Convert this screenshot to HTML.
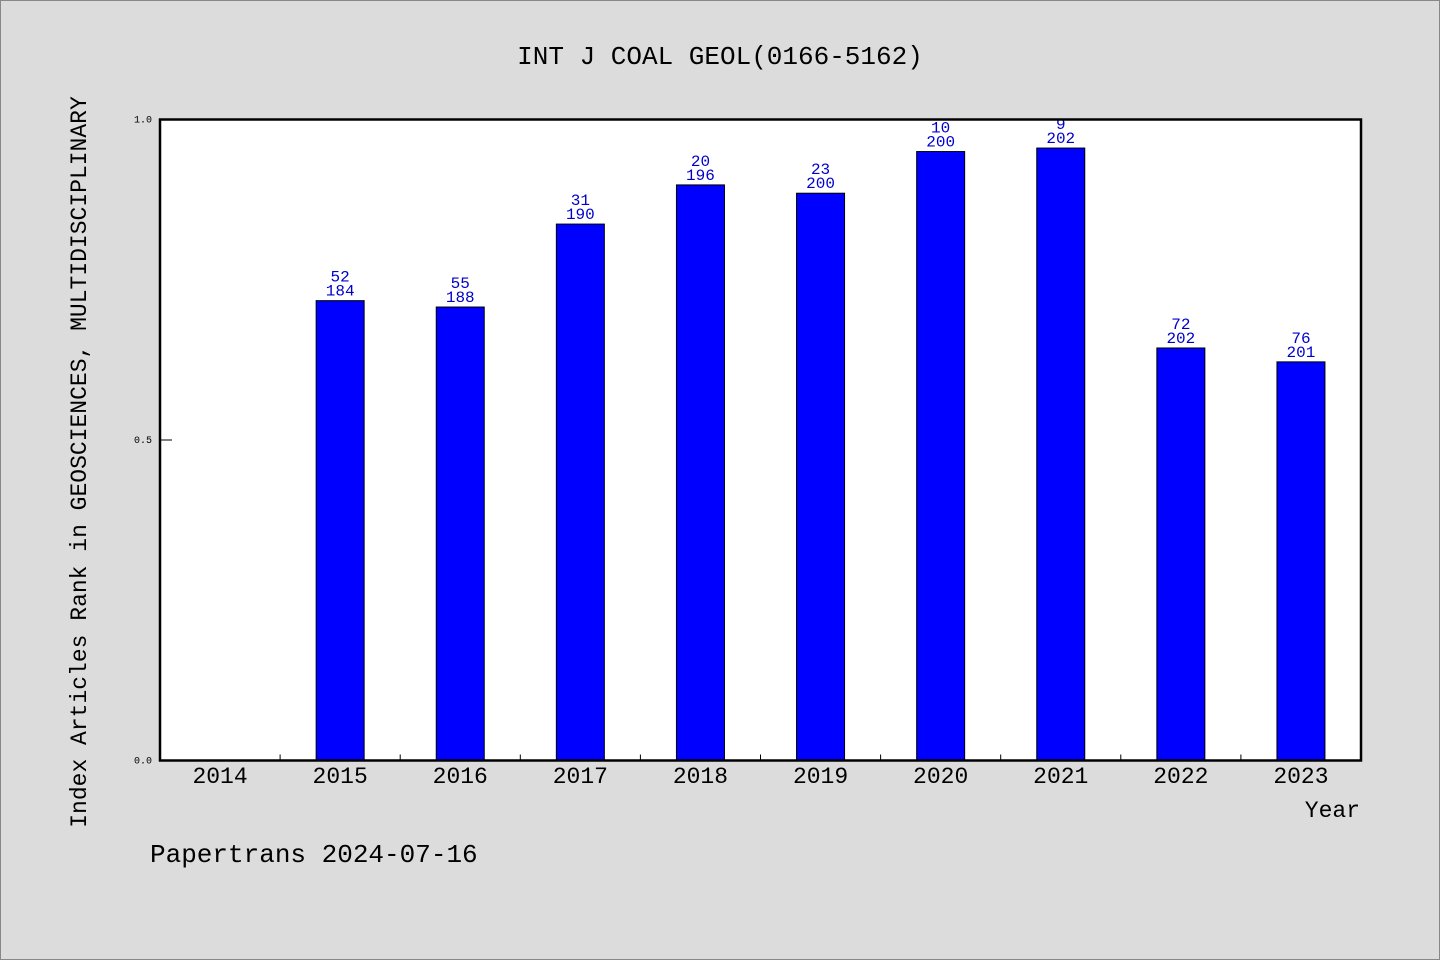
<!DOCTYPE html>
<html><head><meta charset="utf-8"><style>
body{margin:0;background:#dcdcdc;}
svg{display:block;font-family:"Liberation Mono","Noto Sans CJK SC",monospace;}
</style></head><body>
<svg width="1440" height="960" viewBox="0 0 1440 960">
<rect x="0.5" y="0.5" width="1439" height="959" fill="#dcdcdc" stroke="#888"/>
<text x="720" y="64" font-size="26" text-anchor="middle">INT J COAL GEOL(0166-5162)</text>
<rect x="160" y="119.5" width="1201" height="641" fill="#fff"/>
<g id="bars"></g>
<g id="axes"></g>
<rect x="160" y="119.5" width="1201" height="641" fill="none" stroke="#000" stroke-width="2.5"/>
<text transform="translate(86,462) rotate(-90)" font-size="23" text-anchor="middle">Index Articles Rank in GEOSCIENCES, MULTIDISCIPLINARY</text>
<text x="1360" y="817" font-size="23" text-anchor="end">Year</text>
<text x="150" y="862" font-size="26">Papertrans 2024-07-16</text>
</svg>
<script>
const years=["2014","2015","2016","2017","2018","2019","2020","2021","2022","2023"];
const ranks=[null,52,55,31,20,23,10,9,72,76];
const totals=[null,184,188,190,196,200,200,202,202,201];
const yTicks=["0.0","0.5","1.0"];
const NS="http://www.w3.org/2000/svg";
const L=160,R=1361,T=119.5,B=760.5;
const bw=(R-L)/years.length;
const xc=i=>L+bw*(i+0.5);
const y=v=>B-v*(B-T);
function mk(t,a,p){const e=document.createElementNS(NS,t);for(const k in a)e.setAttribute(k,a[k]);p.appendChild(e);return e;}
const bars=document.getElementById('bars'),axes=document.getElementById('axes');
years.forEach((yr,i)=>{
  if(ranks[i]!=null){
    const v=(totals[i]-ranks[i])/totals[i];
    const r=mk('rect',{x:xc(i)-24,y:y(v),width:48,height:B-y(v),fill:'#0000ff',stroke:'#000','stroke-width':1},bars);
    
    
    const t1=mk('text',{x:xc(i),y:y(v)-19,'font-size':16,fill:'#0000cc','text-anchor':'middle'},bars);
    t1.textContent=ranks[i];
    
    
    const t2=mk('text',{x:xc(i),y:y(v)-5,'font-size':16,fill:'#0000cc','text-anchor':'middle'},bars);
    t2.textContent=totals[i];
    
    
  }
  const tl=mk('text',{x:xc(i),y:783,'font-size':23,'text-anchor':'middle'},axes);
  tl.textContent=yr;
  
  
  if(i>0){const tk=mk('line',{x1:L+bw*i,x2:L+bw*i,y1:B,y2:B-6,stroke:'#000'},axes);
  
  }
});
yTicks.forEach(s=>{
  const v=parseFloat(s);
  const tk=mk('line',{x1:L,x2:L+12,y1:y(v),y2:y(v),stroke:'#000'},axes);
  
  
  const t=mk('text',{x:152,y:y(v)+3,'font-size':10,'text-anchor':'end'},axes);
  t.textContent=s;
  
  
});
</script>
</body></html>
